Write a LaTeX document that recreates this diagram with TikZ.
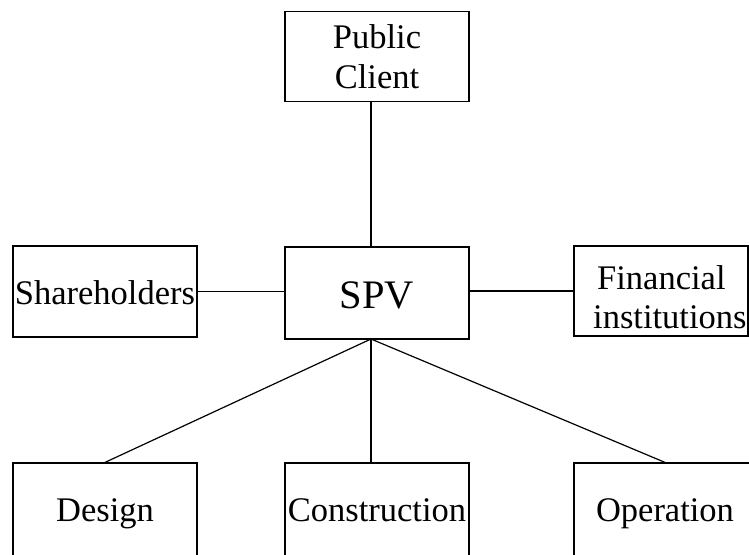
\documentclass[tikz,border=0pt]{standalone}
\usepackage{fontspec}
\setmainfont{Liberation Serif}
\begin{document}
\begin{tikzpicture}[x=1pt,y=-1pt,
  box/.style={draw=black, line width=1.2pt, inner sep=0pt, align=center,
    font=\fontsize{34.5}{40}\selectfont},
  link/.style={draw=black, line width=1.2pt}]
\useasboundingbox (0,0) rectangle (749,554);
\clip (0,0) rectangle (749,554);
\node[box, minimum width=184pt, minimum height=90pt] (pc) at (377,56.5) {Public\\Client};
\node[box, minimum width=184pt, minimum height=92pt, font=\fontsize{40.5}{46}\selectfont, text height=30.6pt, text depth=0pt] (spv) at (377,293) {SPV};
\node[box, minimum width=184pt, minimum height=91pt, text height=25pt, text depth=0pt] (sh) at (105,291.5) {Shareholders};
\node[box, minimum width=174pt, minimum height=90pt] (fin) at (661,291) {};
\node[align=left, inner sep=0pt, anchor=west, font=\fontsize{34.5}{38.5}\selectfont] (finlabel) at (593,297) {\hspace*{4pt}Financial\\institutions};
\node[box, minimum width=184pt, minimum height=94pt, text height=23.4pt, text depth=0pt] (des) at (105,510) {Design};
\node[box, minimum width=184pt, minimum height=94pt, text height=23.4pt, text depth=0pt] (con) at (377,510) {Construction};
\node[box, minimum width=182pt, minimum height=94pt, text height=23.4pt, text depth=0pt] (op) at (665,510) {Operation};
\coordinate (hub) at (371,339);
\draw[link] (pc.south -| hub) -- (spv.north -| hub);
\draw[link] (sh.east) -- (sh.east -| spv.west);
\draw[link] (spv.east |- fin.west) -- (fin.west);
\draw[link] (hub) -- (des.north);
\draw[link] (hub) -- (con.north -| hub);
\draw[link] (hub) -- (op.north);
\end{tikzpicture}
\end{document}
